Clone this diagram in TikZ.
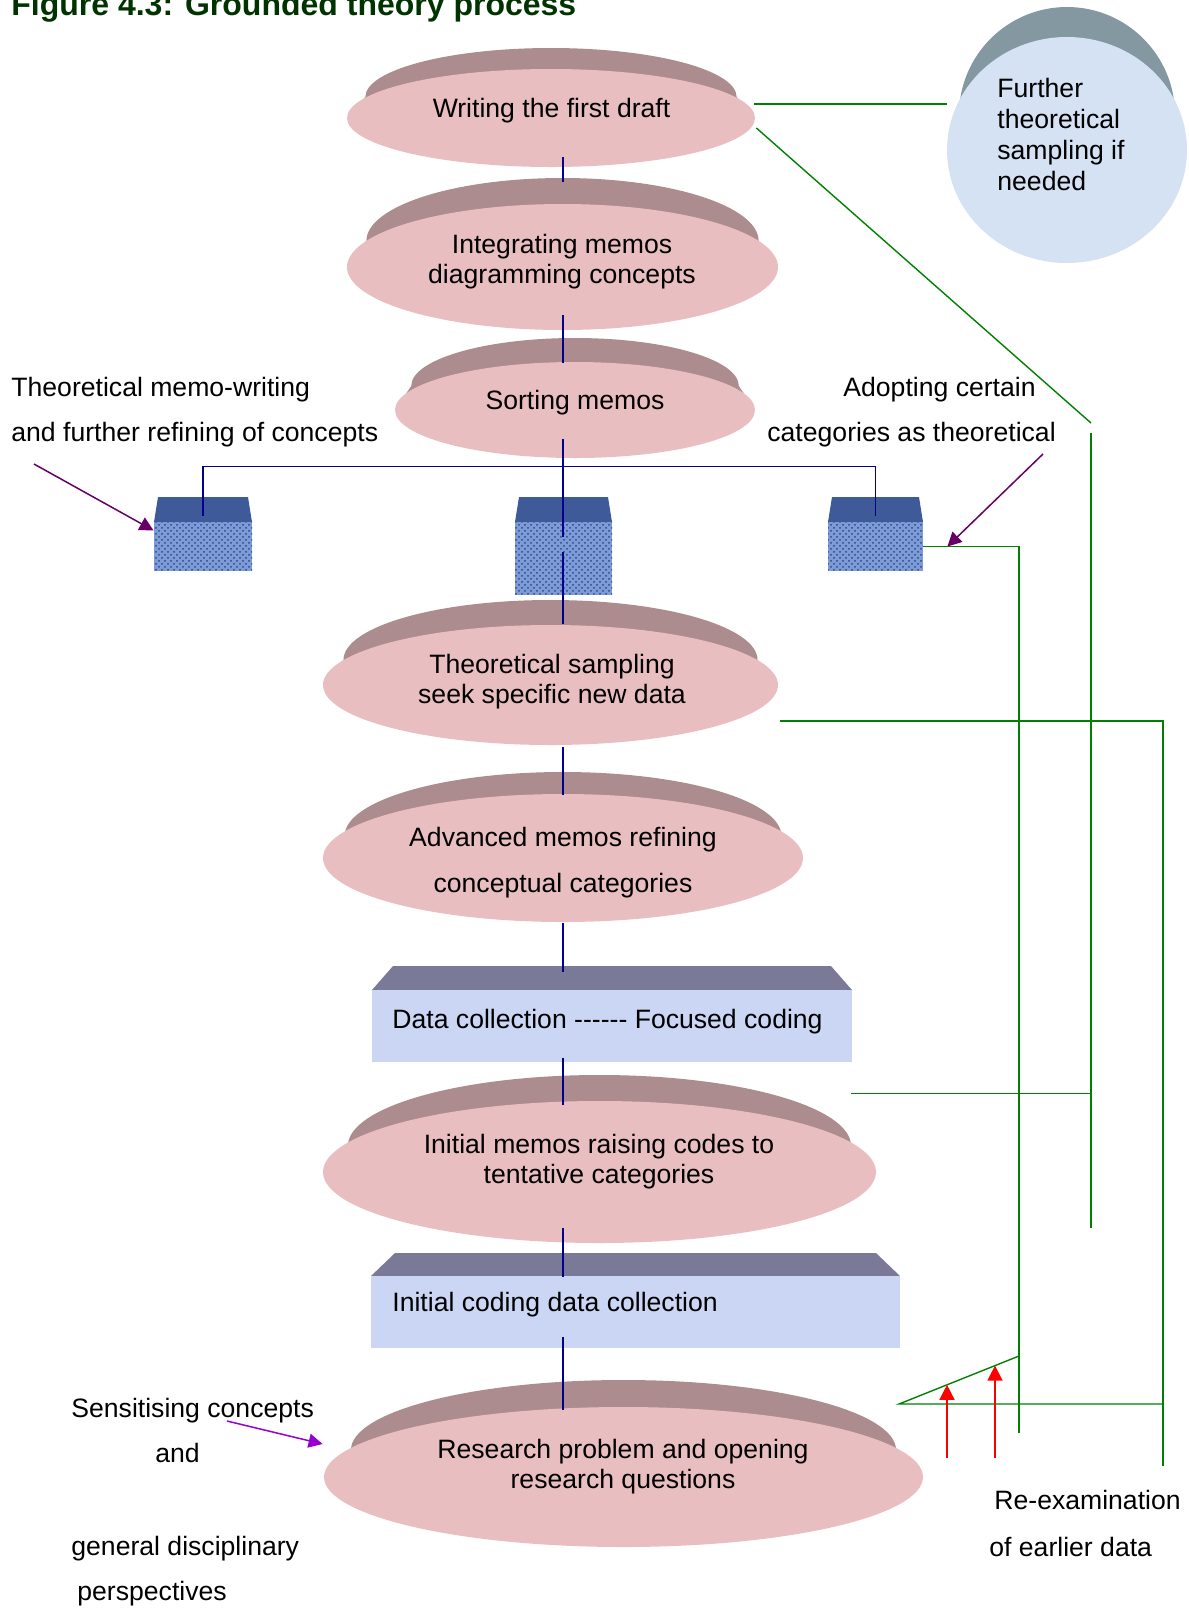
\documentclass[tikz,border=0pt]{standalone}
\usepackage{fontspec}
\setmainfont{Liberation Sans}
\usetikzlibrary{arrows.meta, positioning, calc, fit, shapes.geometric, patterns}

\definecolor{diskpink}{RGB}{233,190,193}
\definecolor{diskrim}{RGB}{150,117,119}
\definecolor{diskrimlight}{RGB}{172,140,142}
\definecolor{boxblue}{RGB}{202,214,244}
\definecolor{boxslate}{RGB}{122,122,152}
\definecolor{cubenavy}{RGB}{62,90,152}
\definecolor{cubeblue}{RGB}{125,155,215}
\definecolor{cubespeck}{RGB}{45,70,135}
\definecolor{circface}{RGB}{212,226,243}
\definecolor{circrim}{RGB}{132,152,162}
\definecolor{circrimlight}{RGB}{172,192,200}
\definecolor{flowblue}{RGB}{0,0,140}
\definecolor{loopgreen}{RGB}{0,128,0}
\definecolor{ptrpurple}{RGB}{102,0,102}
\definecolor{sensviolet}{RGB}{150,0,210}
\definecolor{titlegreen}{RGB}{0,51,0}

\newcommand{\diagfont}{\fontsize{13.3}{15}\selectfont}
\newcommand{\dashrun}{-\kern0pt-\kern0pt-\kern0pt-\kern0pt-\kern0pt-}

% disk: name, cx, cy, rx, ry, rim depth (all in px)
\newcommand{\disk}[6]{%
  \shade[left color=diskrimlight, middle color=diskrim, right color=diskrimlight]
    (#2-#4,#3) -- (#2-0.91*#4,#3-#6)
    arc[start angle=180, end angle=360, x radius=0.91*#4, y radius=#5]
    -- (#2+#4,#3) -- cycle;
  \node[disk, minimum width=#4pt, minimum height=#5pt] (#1) at (#2,#3) {};
}
% slab: name, x1, y1, x2, y2, inset, top height, kind
\newcommand{\slab}[8]{%
  \fill[#8top] (#2,#3) -- (#2+#6,#3-#7) -- (#4-#6,#3-#7) -- (#4,#3) -- cycle;
  \node[#8face, fit={(#2,#3) (#4,#5)}] (#1) {};
}

\begin{document}
\begin{tikzpicture}[
    x=0.5pt, y=-0.5pt,
    disk/.style={ellipse, fill=diskpink, inner sep=0pt},
    boxface/.style={rectangle, fill=boxblue, inner sep=0pt},
    boxtop/.style={fill=boxslate},
    cubeface/.style={rectangle, fill=cubeblue, inner sep=0pt,
        postaction={pattern=crosshatch dots, pattern color=cubespeck}},
    cubetop/.style={fill=cubenavy},
    circface/.style={ellipse, fill=circface, inner sep=0pt},
    title/.style={font=\fontsize{16}{19}\selectfont\bfseries, text=titlegreen,
        inner sep=0pt, anchor=base west},
    disktext/.style={font=\diagfont, align=center, inner sep=0pt, anchor=base},
    note/.style={font=\diagfont, inner sep=0pt, anchor=base west},
    flow/.style={draw=flowblue, line width=0.75pt},
    loopline/.style={draw=loopgreen, line width=0.7pt},
    pointer/.style={draw=ptrpurple, line width=0.75pt, -{Triangle[length=7pt, width=7pt]}},
    sensarrow/.style={draw=sensviolet, line width=0.75pt, -{Triangle[length=7pt, width=7pt]}},
    redarrow/.style={draw=red, line width=0.75pt, -{Triangle[length=7.5pt, width=7.5pt]}}
  ]
  \useasboundingbox (0,0) rectangle (1189,1608);
  \coordinate (spine) at (563,0);

  \node[title] (title) at (11,15) {Figure 4.3: Grounded theory process};

  % --- main column ---
  \disk{d1}{551}{118}{204}{49}{21}
  \disk{d2}{562.5}{267}{215.5}{63}{26}
  \disk{d3}{575}{410}{180}{48}{24}
  \disk{d4}{550.5}{685}{227.5}{60}{25}
  \disk{d5}{563}{858}{240}{64}{22}
  \disk{d6}{599.5}{1172}{276.5}{71}{26}
  \disk{d7}{623.5}{1477}{299.5}{70}{27}

  \slab{b1}{372}{990}{852}{1062}{21}{24}{box}
  \slab{b2}{371}{1276}{900}{1348}{24}{23}{box}
  \slab{c1}{154}{522}{252}{571}{4}{25}{cube}
  \slab{c2}{515}{522}{612}{595}{4}{25}{cube}
  \slab{c3}{828}{522}{923}{571}{4}{25}{cube}

  % --- further sampling ---
  \shade[left color=circrim, middle color=circrimlight, right color=circrim]
    (947,150) -- (959,115) arc[start angle=180, end angle=360, x radius=108, y radius=108]
    -- (1187,150) -- cycle;
  \node[circface, minimum width=120pt, minimum height=113pt] (circ) at (1067,150) {};

  % --- texts (multi-line nodes sit on their last baseline) ---
  \node[disktext] (d1t) at (551.5,117) {Writing the first draft};
  \node[disktext] (d2t) at (562,283) {Integrating memos\\diagramming concepts};
  \node[disktext] (d3t) at (575,409) {Sorting memos};
  \node[disktext] (d4t) at (552,703) {Theoretical sampling\\seek specific new data};
  \node[disktext, font=\fontsize{13.3}{23}\selectfont] (d5t) at (563,892)
    {Advanced memos refining\\conceptual categories};
  \node[disktext] (d6t) at (599,1183) {Initial memos raising codes to\\tentative categories};
  \node[disktext] (d7t) at (623,1488) {Research problem and opening\\research questions};
  \node[note] (b1t) at (392,1028) {Data collection \dashrun{} Focused coding};
  \node[note] (b2t) at (392,1311) {Initial coding data collection};
  \node[note, align=left, font=\fontsize{13.3}{15.35}\selectfont] (circt) at (997,190)
    {Further\\theoretical\\sampling if\\needed};

  \node[note] (memo1) at (11,396) {Theoretical memo-writing};
  \node[note] (memo2) at (11,441) {and further refining of concepts};
  \node[note] (adopt1) at (843,396) {Adopting certain};
  \node[note] (adopt2) at (767,441) {categories as theoretical};
  \node[note] (sens1) at (71,1417) {Sensitising concepts};
  \node[note] (sens2) at (155,1462) {and};
  \node[note] (sens3) at (71,1555) {general disciplinary};
  \node[note] (sens4) at (77,1600) {perspectives};
  \node[note] (reex1) at (994,1509) {Re-examination};
  \node[note] (reex2) at (989,1556) {of earlier data};

  % --- blue spine ---
  \draw[flow] ($(spine |- d1.south)+(0,-10)$) -- ($(spine |- d2.north)+(0,-22)$);
  \draw[flow] ($(spine |- d2.south)+(0,-15)$) -- ($(spine |- d3.north)+(0,1)$);
  \draw[flow] ($(spine |- d3.south)+(0,-19)$) -- ($(spine |- c2.north)+(0,15)$);
  \draw[flow] ($(spine |- c2.north)+(0,30)$) -- ($(spine |- d4.north)+(0,-1)$);
  \draw[flow] ($(spine |- d4.south)+(0,2)$) -- ($(spine |- d5.north)+(0,1)$);
  \draw[flow] ($(spine |- d5.south)+(0,1)$) -- ($(spine |- b1.north)+(0,-18)$);
  \draw[flow] ($(spine |- b1.south)+(0,-4)$) -- ($(spine |- d6.north)+(0,4)$);
  \draw[flow] ($(spine |- d6.south)+(0,-15)$) -- ($(spine |- b2.north)+(0,1)$);
  \draw[flow] ($(spine |- b2.south)+(0,-11)$) -- ($(spine |- d7.north)+(0,3)$);
  \draw[flow] ($(c1.north)+(0,-6)$) -- ++(0,-49) -| ($(c3.north)+(0,-6)$);

  % --- green feedback lines ---
  \coordinate (rdiag) at (1091,423);
  \coordinate (ra1) at (1091,433);
  \coordinate (ra2) at (1091,1228);
  \coordinate (rb) at (1019,1433);
  \coordinate (rc) at (1163,1466);
  \coordinate (tl) at (899,1404);
  \coordinate (tt) at (1019,1356);
  \draw[loopline] ($(d1.east)+(-1,-14)$) coordinate (g1) -- (g1 -| circ.west);
  \draw[loopline] ($(d1.east)+(1,10)$) -- (rdiag);
  \draw[loopline] (ra1) -- (ra2);
  \draw[loopline] ($(b1.south east)+(-1,31)$) coordinate (g2) -- (g2 -| ra1);
  \draw[loopline] (c3.east) -| (rb);
  \draw[loopline] ($(d4.east)+(2,36)$) -| (rc);
  \draw[loopline] (tt) -- (tl) -- (tl -| rc);

  % --- red arrows ---
  \coordinate (rbase) at (0,1458);
  \coordinate (ta) at ($(tl)!0.4!(tt)$);
  \coordinate (tb) at ($(tl)!0.8!(tt)$);
  \draw[redarrow] (ta |- rbase) -- (ta);
  \draw[redarrow] (tb |- rbase) -- (tb);

  % --- purple pointers ---
  \coordinate (p1) at (34,464);
  \coordinate (p2) at (1043,454);
  \coordinate (p3) at (227,1421);
  \draw[pointer] (p1) -- ($(c1.west)+(0,-16)$);
  \draw[pointer] (p2) -- ($(c3.east)+(24,0)$);
  \draw[sensarrow] (p3) -- ($(d7.west)+(-1,-33)$);
\end{tikzpicture}
\end{document}
